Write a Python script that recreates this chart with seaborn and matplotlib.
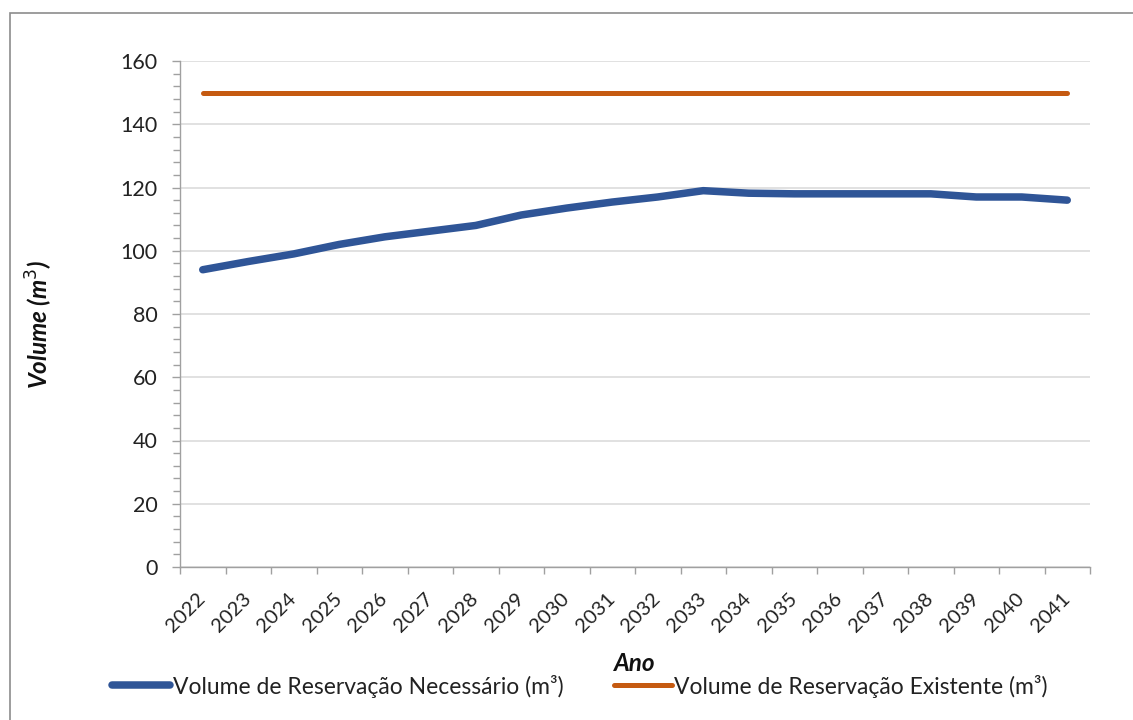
import matplotlib
matplotlib.use("Agg")
import matplotlib.pyplot as plt
import matplotlib.patches as mpatches
from matplotlib.ticker import MultipleLocator, FixedLocator
import seaborn as sns
import pandas as pd
import numpy as np

years = [str(y) for y in range(2022, 2042)]
necessario = [94, 96.6, 99, 102, 104.4, 106.2, 108, 111.3, 113.5, 115.4,
              117, 119, 118.2, 118, 118, 118, 118, 117, 117, 116]
existente = [150] * 20
series_names = ["Volume de Reservação Necessário (m³)",
                "Volume de Reservação Existente (m³)"]
colors = ["#2F5597", "#C55A11"]
y_ticks = [0, 20, 40, 60, 80, 100, 120, 140, 160]

sns.set_theme(style="white")
plt.rcParams["font.family"] = ["Lato", "DejaVu Sans"]

pos = np.arange(len(years))
df = pd.DataFrame({
    "pos": np.concatenate([pos, pos]),
    "Volume": necessario + existente,
    "Série": [series_names[0]] * len(years) + [series_names[1]] * len(years),
})

fig = plt.figure(figsize=(11.33, 7.2), dpi=100)
ax = fig.add_axes([180 / 1133, 1 - 567 / 720, 910 / 1133, 506 / 720])

sns.lineplot(data=df, x="pos", y="Volume", hue="Série", palette=colors,
             ax=ax, legend=False, sort=False)
lws = [5.4, 3.6]
for line, lw in zip(ax.get_lines(), lws):
    line.set_linewidth(lw)
    line.set_solid_capstyle("round")

ax.set_xlim(-0.5, len(years) - 0.5)
ax.set_ylim(0, 160)
ax.set_yticks(y_ticks)
ax.yaxis.set_minor_locator(MultipleLocator(4))
ax.set_xticks(pos)
ax.set_xticklabels(years)
ax.xaxis.set_minor_locator(FixedLocator(np.arange(-0.5, len(years), 1.0)))

ax.grid(axis="y", color="#d9d9d9", linewidth=1.1)
ax.grid(axis="x", visible=False)
ax.set_axisbelow(True)
for s in ["top", "right"]:
    ax.spines[s].set_visible(False)
for s in ["left", "bottom"]:
    ax.spines[s].set_color("#a0a0a0")
    ax.spines[s].set_linewidth(1.0)

ax.tick_params(axis="y", which="major", length=6, width=1, color="#a0a0a0",
               labelsize=15.5, pad=10, labelcolor="#222222", left=True)
ax.tick_params(axis="y", which="minor", length=5, width=1, color="#a0a0a0", left=True)
ax.tick_params(axis="x", which="major", length=0, labelsize=14.5, pad=21,
               labelcolor="#222222", bottom=True)
ax.tick_params(axis="x", which="minor", length=5, width=1, color="#a0a0a0", bottom=True)
for lbl in ax.get_xticklabels():
    lbl.set_rotation(45)
    lbl.set_ha("right")
    lbl.set_va("center")
    lbl.set_rotation_mode("anchor")

ax.set_ylabel("Volume (m$^3$)", fontsize=17.5, fontweight="bold", fontstyle="italic",
              color="#111111")
ax.yaxis.label.set_va("center")
ax.yaxis.set_label_coords(-0.154, 0.48)
ax.set_xlabel("Ano", fontsize=17.5, fontweight="bold", fontstyle="italic", color="#111111")
ax.xaxis.set_label_coords(0.5, -0.19)
ax.xaxis.label.set_va("center")

handles = [plt.Line2D([], [], color=c, linewidth=lw, solid_capstyle="round")
           for c, lw in zip(colors, lws)]
fig.legend(handles, series_names, loc="center", ncol=2,
           bbox_to_anchor=(580 / 1133, 1 - 686 / 720), frameon=False,
           fontsize=16.5, handlelength=2.55, handletextpad=0.1, columnspacing=2.2,
           borderpad=0, labelcolor="#222222")

border = mpatches.Rectangle((10 / 1133, -0.1), 1.2, 0.1 + (1 - 13 / 720),
                            transform=fig.transFigure, fill=False,
                            edgecolor="#8c8c8c", linewidth=1.2, zorder=0)
fig.patches.append(border)

fig.savefig("out.png", dpi=100, facecolor="white")
